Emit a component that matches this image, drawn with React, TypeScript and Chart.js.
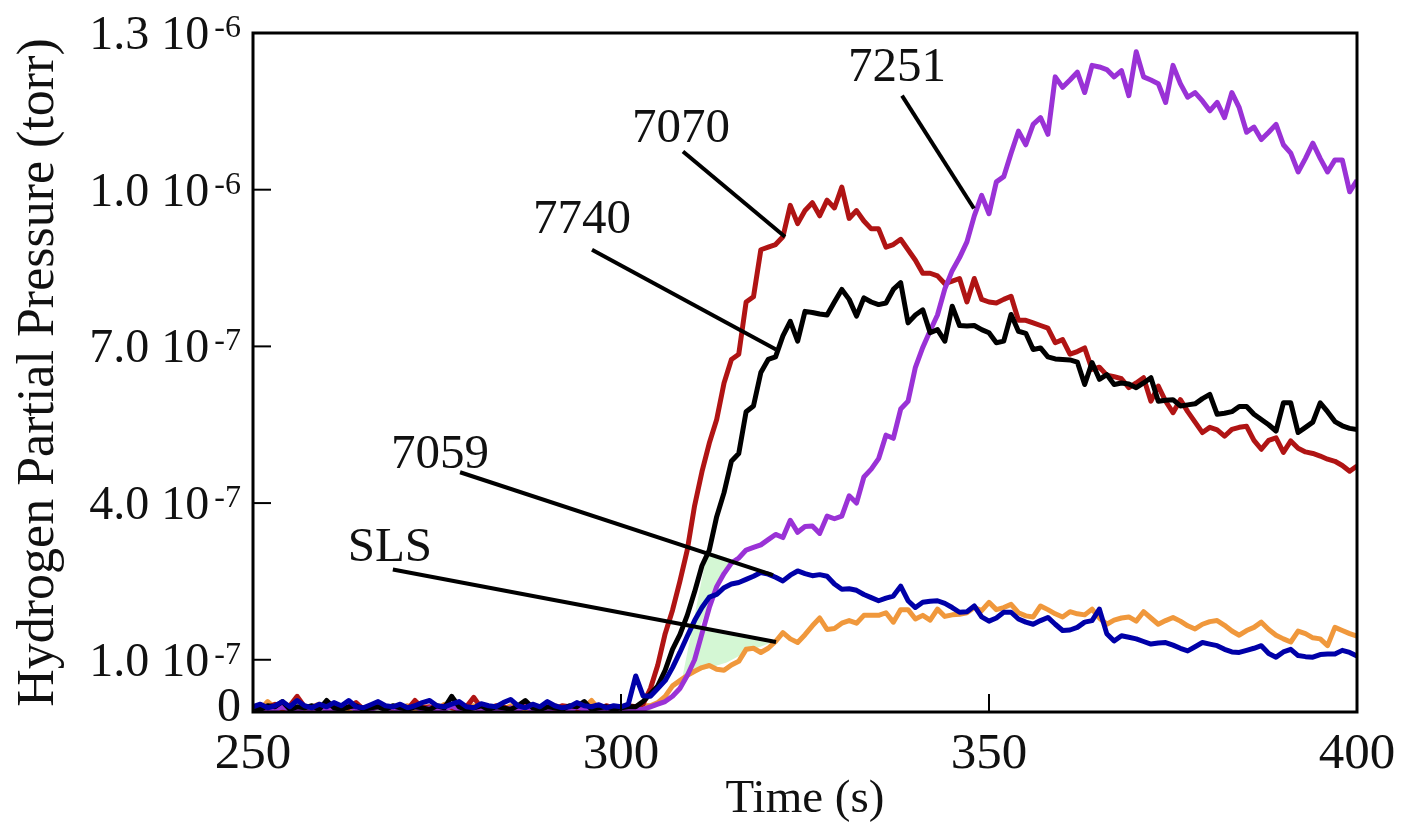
import React, { useEffect, useRef } from 'react';
import { Chart, registerables } from 'chart.js';

Chart.register(...registerables);

// values are in units of 1e-7 torr
const UNIT = 1e-7;
const BASE_START = 250; // baseline arrays: 250..299 s, 1 s step
const RISE_START = 300; // rise arrays: 300..400 s, 1 s step

const X_MIN = 250;
const X_MAX = 400;
const Y_MIN = 0;
const Y_MAX = 13; // 1.3e-6

const X_TICKS = [250, 300, 350, 400];
const Y_TICKS = [0, 1, 4, 7, 10, 13];
const Y_TICK_MANTISSA = ['0', '1.0 10', '4.0 10', '7.0 10', '1.0 10', '1.3 10'];
const Y_TICK_EXPONENT = ['', '-7', '-7', '-7', '-6', '-6'];

const X_TITLE = 'Time (s)';
const Y_TITLE = 'Hydrogen Partial Pressure (torr)';

// ---- 7059 (blue)
const BASE_7059 = [
  0.1, 0.15, 0.08, 0.12, 0.2, 0.1, 0.22, 0.12, 0.08, 0.15,
  0.1, 0.18, 0.12, 0.22, 0.1, 0.08, 0.14, 0.2, 0.12, 0.1,
  0.15, 0.08, 0.12, 0.18, 0.22, 0.12, 0.1, 0.15, 0.2, 0.1,
  0.08, 0.16, 0.12, 0.1, 0.18, 0.24, 0.12, 0.08, 0.15, 0.1,
  0.2, 0.12, 0.08, 0.1, 0.18, 0.12, 0.1, 0.14, 0.08, 0.12,
];
const RISE_7059 = [
  0.1, 0.15, 0.69, 0.31, 0.3, 0.45, 0.6, 0.85, 1.14, 1.45,
  1.75, 2.0, 2.2, 2.25, 2.38, 2.45, 2.48, 2.54, 2.6, 2.67,
  2.64, 2.58, 2.51, 2.62, 2.7, 2.65, 2.61, 2.63, 2.6, 2.45,
  2.35, 2.36, 2.33, 2.25, 2.19, 2.13, 2.18, 2.22, 2.41, 2.13,
  2.0, 2.1, 2.12, 2.13, 2.08, 2.0, 1.91, 1.92, 2.03, 1.82,
  1.74, 1.8, 1.91, 1.91, 1.78, 1.72, 1.68, 1.75, 1.81, 1.68,
  1.56, 1.57, 1.62, 1.72, 1.75, 1.97, 1.5, 1.36, 1.46, 1.43,
  1.4, 1.35, 1.3, 1.32, 1.33, 1.28, 1.22, 1.17, 1.25, 1.33,
  1.3, 1.27, 1.2, 1.15, 1.14, 1.18, 1.22, 1.27, 1.12, 1.05,
  1.15, 1.2, 1.08, 1.06, 1.05, 1.1, 1.11, 1.11, 1.18, 1.14,
  1.07,
];

// ---- 7740 (black)
const BASE_7740 = [
  0.08, 0.05, 0.12, 0.1, 0.2, 0.05, 0.1, 0.08, 0.12, 0.05,
  0.22, 0.08, 0.05, 0.1, 0.12, 0.05, 0.08, 0.1, 0.05, 0.12,
  0.08, 0.05, 0.1, 0.08, 0.05, 0.12, 0.08, 0.3, 0.1, 0.05,
  0.08, 0.12, 0.05, 0.1, 0.08, 0.05, 0.12, 0.22, 0.08, 0.05,
  0.1, 0.08, 0.05, 0.12, 0.1, 0.2, 0.05, 0.08, 0.1, 0.05,
];
const RISE_7740 = [
  0.08, 0.1, 0.1, 0.2, 0.35, 0.5, 0.8, 1.2, 1.48, 1.85,
  2.3, 2.8, 3.1, 3.74, 4.2, 4.8, 4.95, 5.75, 5.86, 6.5,
  6.75, 6.8, 7.2, 7.48, 7.1, 7.67, 7.65, 7.62, 7.6, 7.85,
  8.09, 7.9, 7.58, 7.93, 7.85, 7.8, 7.83, 8.09, 8.22, 7.45,
  7.6, 7.7, 7.26, 7.32, 7.1, 7.77, 7.4, 7.39, 7.4, 7.32,
  7.26, 7.07, 7.1, 7.61, 7.29, 7.25, 6.94, 6.97, 6.8, 6.76,
  6.75, 6.74, 6.7, 6.27, 6.69, 6.37, 6.46, 6.27, 6.3, 6.28,
  6.21, 6.3, 6.4, 5.95, 5.97, 5.98, 5.86, 5.88, 5.9, 6.0,
  6.08, 5.7, 5.72, 5.75, 5.85, 5.85, 5.7, 5.6, 5.5, 5.38,
  5.92, 5.92, 5.35, 5.45, 5.55, 5.92, 5.75, 5.56, 5.48, 5.43,
  5.41,
];

// ---- 7251 (purple)
const BASE_7251 = [
  0.05, 0.08, 0.02, 0.05, 0.1, 0.05, 0.02, 0.08, 0.05, 0.1,
  0.05, 0.02, 0.08, 0.12, 0.05, 0.02, 0.05, 0.1, 0.05, 0.08,
  0.02, 0.05, 0.1, 0.05, 0.08, 0.02, 0.05, 0.12, 0.05, 0.02,
  0.08, 0.05, 0.1, 0.05, 0.02, 0.08, 0.05, 0.1, 0.05, 0.02,
  0.05, 0.08, 0.05, 0.02, 0.1, 0.05, 0.08, 0.05, 0.02, 0.05,
];
const RISE_7251 = [
  0.05, 0.05, 0.05, 0.05, 0.1, 0.15, 0.2, 0.3, 0.45, 0.7,
  1.0, 1.5, 2.0, 2.4, 2.65, 2.85, 2.95, 3.1, 3.15, 3.2,
  3.3, 3.4, 3.34, 3.67, 3.44, 3.55, 3.56, 3.42, 3.75, 3.7,
  3.75, 4.14, 4.0, 4.5, 4.65, 4.85, 5.3, 5.24, 5.8, 5.95,
  6.6, 6.98, 7.3, 7.6, 8.1, 8.45, 8.7, 9.0, 9.5, 9.89,
  9.54, 10.15, 10.25, 10.7, 11.12, 10.86, 11.25, 11.38, 11.06, 12.16,
  11.96, 12.1, 12.25, 11.86, 12.38, 12.35, 12.3, 12.16, 12.28, 11.8,
  12.64, 12.16, 12.1, 12.03, 11.67, 12.38, 12.03, 11.77, 11.86, 11.7,
  11.51, 11.67, 11.38, 11.86, 11.57, 11.1, 11.2, 10.96, 11.1, 11.25,
  10.86, 10.7, 10.34, 10.6, 10.89, 10.6, 10.34, 10.57, 10.57, 9.96,
  10.18,
];

// ---- 7070 (red)
const BASE_7070 = [
  0.05, 0.1, 0.08, 0.15, 0.05, 0.12, 0.3, 0.1, 0.05, 0.08,
  0.12, 0.05, 0.1, 0.08, 0.18, 0.05, 0.1, 0.12, 0.05, 0.08,
  0.1, 0.05, 0.22, 0.08, 0.1, 0.05, 0.12, 0.08, 0.05, 0.1,
  0.28, 0.08, 0.05, 0.12, 0.1, 0.05, 0.08, 0.15, 0.05, 0.1,
  0.08, 0.05, 0.12, 0.1, 0.05, 0.08, 0.1, 0.05, 0.12, 0.08,
];
const RISE_7070 = [
  0.1, 0.12, 0.1, 0.15, 0.45, 0.9, 1.5, 1.95, 2.5, 3.1,
  3.95, 4.6, 5.15, 5.6, 6.3, 6.75, 6.85, 7.85, 7.95, 8.85,
  8.9, 8.95, 9.1, 9.7, 9.35, 9.6, 9.75, 9.5, 9.8, 9.65,
  10.05, 9.45, 9.6, 9.4, 9.25, 9.25, 8.9, 8.95, 9.05, 8.85,
  8.65, 8.4, 8.4, 8.35, 8.2, 8.25, 8.3, 7.85, 8.3, 7.9,
  7.85, 7.83, 7.9, 7.96, 7.5, 7.5, 7.45, 7.4, 7.35, 7.07,
  7.13, 6.85, 6.9, 6.97, 6.56, 6.6, 6.45, 6.42, 6.38, 6.21,
  6.3, 6.4, 5.95, 6.24, 5.95, 5.73, 5.98, 5.75, 5.55, 5.35,
  5.45, 5.4, 5.28, 5.41, 5.45, 5.47, 5.2, 5.03, 5.2, 5.25,
  4.97, 5.19, 5.05, 4.98, 4.95, 4.9, 4.84, 4.8, 4.72, 4.61,
  4.71,
];

// ---- SLS (orange)
const BASE_SLS = [
  0.1, 0.05, 0.2, 0.08, 0.05, 0.12, 0.08, 0.05, 0.1, 0.15,
  0.05, 0.08, 0.1, 0.05, 0.12, 0.08, 0.05, 0.18, 0.1, 0.05,
  0.08, 0.12, 0.05, 0.1, 0.08, 0.05, 0.15, 0.08, 0.05, 0.1,
  0.12, 0.05, 0.08, 0.1, 0.05, 0.12, 0.08, 0.05, 0.1, 0.08,
  0.05, 0.12, 0.08, 0.05, 0.1, 0.08, 0.22, 0.05, 0.1, 0.08,
];
const RISE_SLS = [
  0.1, 0.08, 0.1, 0.12, 0.12, 0.18, 0.3, 0.5, 0.6, 0.7,
  0.78, 0.85, 0.89, 0.82, 0.8, 0.9, 0.97, 1.2, 1.22, 1.14,
  1.22, 1.35, 1.52, 1.4, 1.33, 1.48, 1.65, 1.8, 1.58, 1.6,
  1.7, 1.75, 1.7, 1.85, 1.85, 1.85, 1.9, 1.72, 1.96, 1.96,
  1.78, 1.85, 1.76, 1.97, 1.83, 1.86, 1.87, 1.9, 2.0, 1.94,
  2.1, 1.96, 2.0, 2.06, 1.9, 1.84, 1.82, 2.03, 1.96, 1.88,
  1.82, 1.92, 1.88, 1.86, 1.97, 1.8, 1.68, 1.76, 1.8, 1.82,
  1.74, 1.92, 1.8, 1.68, 1.75, 1.81, 1.74, 1.65, 1.59, 1.68,
  1.73, 1.75, 1.66, 1.55, 1.47, 1.56, 1.62, 1.72, 1.58, 1.47,
  1.4, 1.34, 1.55, 1.5, 1.42, 1.4, 1.27, 1.62, 1.56, 1.5,
  1.45,
];

// drawing order: first listed is drawn on top
const SERIES_NAMES = ['7059', '7740', '7251', '7070', 'SLS'];
const SERIES_BASE = [BASE_7059, BASE_7740, BASE_7251, BASE_7070, BASE_SLS];
const SERIES_RISE = [RISE_7059, RISE_7740, RISE_7251, RISE_7070, RISE_SLS];
const SERIES_COLORS = ['#0000a8', '#000000', '#9a32d6', '#b01414', '#f0983c'];

// annotation labels with leader lines (data units: s, 1e-7 torr)
const ANNOT_LABELS = ['7070', '7251', '7740', '7059', 'SLS'];
const ANNOT_TEXT_T = [308.15, 337.5, 294.7, 275.4, 268.6];
const ANNOT_TEXT_V = [10.92, 12.08, 9.18, 4.68, 2.89];
const ANNOT_FROM_T = [308.42, 338.18, 296.06, 278.13, 269.0];
const ANNOT_FROM_V = [10.73, 11.8, 8.85, 4.59, 2.73];
const ANNOT_TO_T = [322.28, 347.96, 321.06, 320.65, 321.06];
const ANNOT_TO_V = [9.1, 9.64, 6.94, 2.62, 1.34];

// pale green highlighted region between the 7059 and SLS annotations
const HIGHLIGHT_T = [311.73, 314.9, 310.73, 309.28, 320.24, 317.08, 314.36, 310.73, 308.25];
const HIGHLIGHT_V = [3.08, 2.93, 1.65, 1.62, 1.32, 1.15, 0.95, 0.79, 0.6];

const FONT = '"Liberation Serif", "Times New Roman", serif';

function buildPoints(base: number[], rise: number[]) {
  return [
    ...base.map((v, i) => ({ x: BASE_START + i, y: v * UNIT })),
    ...rise.map((v, i) => ({ x: RISE_START + i, y: v * UNIT })),
  ];
}

const overlayPlugin = {
  id: 'overlay',
  beforeDatasetsDraw(chart: any) {
    const { ctx, scales } = chart;
    const x = scales.x;
    const y = scales.y;
    ctx.save();
    ctx.beginPath();
    HIGHLIGHT_T.forEach((t, i) => {
      const px = x.getPixelForValue(t);
      const py = y.getPixelForValue(HIGHLIGHT_V[i] * UNIT);
      if (i === 0) ctx.moveTo(px, py);
      else ctx.lineTo(px, py);
    });
    ctx.closePath();
    ctx.fillStyle = '#d4f7d4';
    ctx.fill();
    ctx.restore();
  },
  afterDatasetsDraw(chart: any) {
    const { ctx, scales, chartArea } = chart;
    const x = scales.x;
    const y = scales.y;
    const { left, right, top, bottom } = chartArea;
    ctx.save();

    // leader lines
    ctx.strokeStyle = '#000';
    ctx.lineWidth = 4;
    ctx.lineCap = 'butt';
    ANNOT_LABELS.forEach((_, i) => {
      ctx.beginPath();
      ctx.moveTo(x.getPixelForValue(ANNOT_FROM_T[i]), y.getPixelForValue(ANNOT_FROM_V[i] * UNIT));
      ctx.lineTo(x.getPixelForValue(ANNOT_TO_T[i]), y.getPixelForValue(ANNOT_TO_V[i] * UNIT));
      ctx.stroke();
    });

    // annotation text
    ctx.fillStyle = '#111';
    ctx.font = `49px ${FONT}`;
    ctx.textAlign = 'center';
    ctx.textBaseline = 'alphabetic';
    ANNOT_LABELS.forEach((label, i) => {
      ctx.fillText(label, x.getPixelForValue(ANNOT_TEXT_T[i]), y.getPixelForValue(ANNOT_TEXT_V[i] * UNIT));
    });

    // frame
    ctx.strokeStyle = '#000';
    ctx.lineWidth = 3;
    ctx.strokeRect(left, top, right - left, bottom - top);

    // ticks (inward)
    ctx.lineWidth = 2;
    Y_TICKS.forEach((v) => {
      if (v === Y_MIN || v === Y_MAX) return;
      const py = y.getPixelForValue(v * UNIT);
      ctx.beginPath();
      ctx.moveTo(left, py);
      ctx.lineTo(left + 18, py);
      ctx.stroke();
    });
    X_TICKS.forEach((t) => {
      if (t === X_MIN || t === X_MAX) return;
      const px = x.getPixelForValue(t);
      ctx.beginPath();
      ctx.moveTo(px, bottom);
      ctx.lineTo(px, bottom - 18);
      ctx.stroke();
    });

    // y tick labels with superscript exponent
    ctx.fillStyle = '#111';
    ctx.textAlign = 'right';
    ctx.textBaseline = 'alphabetic';
    const labelRight = left - 12;
    Y_TICKS.forEach((v, i) => {
      const py = y.getPixelForValue(v * UNIT);
      const exp = Y_TICK_EXPONENT[i];
      ctx.font = `32px ${FONT}`;
      const expW = exp ? ctx.measureText(exp).width + 5 : 0;
      if (exp) ctx.fillText(exp, labelRight, py + 4);
      ctx.font = `48px ${FONT}`;
      const base = v === Y_MIN ? py + 9 : py + 16;
      ctx.fillText(Y_TICK_MANTISSA[i], labelRight - expW, base);
    });

    // x tick labels
    ctx.font = `51px ${FONT}`;
    ctx.textAlign = 'center';
    X_TICKS.forEach((t) => {
      ctx.fillText(String(t), x.getPixelForValue(t), bottom + 56);
    });

    // axis titles
    ctx.font = `47px ${FONT}`;
    ctx.fillText(X_TITLE, (left + right) / 2, bottom + 100);
    ctx.save();
    ctx.translate(53, (top + bottom) / 2);
    ctx.rotate(-Math.PI / 2);
    ctx.font = `52px ${FONT}`;
    ctx.textAlign = 'center';
    ctx.fillText(Y_TITLE, 0, 0);
    ctx.restore();

    ctx.restore();
  },
};

export default function App() {
  const ref = useRef<HTMLCanvasElement>(null);

  useEffect(() => {
    if (!ref.current) return;
    const chart = new Chart(ref.current, {
      type: 'line',
      data: {
        datasets: SERIES_NAMES.map((name, i) => ({
          label: name,
          data: buildPoints(SERIES_BASE[i], SERIES_RISE[i]),
          borderColor: SERIES_COLORS[i],
          backgroundColor: SERIES_COLORS[i],
          borderWidth: 5,
          pointRadius: 0,
          tension: 0,
          fill: false,
          borderJoinStyle: 'round' as const,
        })),
      },
      options: {
        responsive: false,
        animation: false,
        devicePixelRatio: 1,
        layout: { padding: { left: 253, right: 44, top: 33, bottom: 125 } },
        plugins: {
          legend: { display: false },
          tooltip: { enabled: false },
        },
        scales: {
          x: { type: 'linear', min: X_MIN, max: X_MAX, display: false },
          y: { type: 'linear', min: Y_MIN * UNIT, max: Y_MAX * UNIT, display: false },
        },
      },
      plugins: [overlayPlugin],
    });
    return () => chart.destroy();
  }, []);

  return (
    <div style={{ position: 'fixed', left: 0, top: 0, width: 1401, height: 837, background: '#fff' }}>
      <canvas ref={ref} width={1401} height={837} style={{ display: 'block', width: 1401, height: 837 }} />
    </div>
  );
}
